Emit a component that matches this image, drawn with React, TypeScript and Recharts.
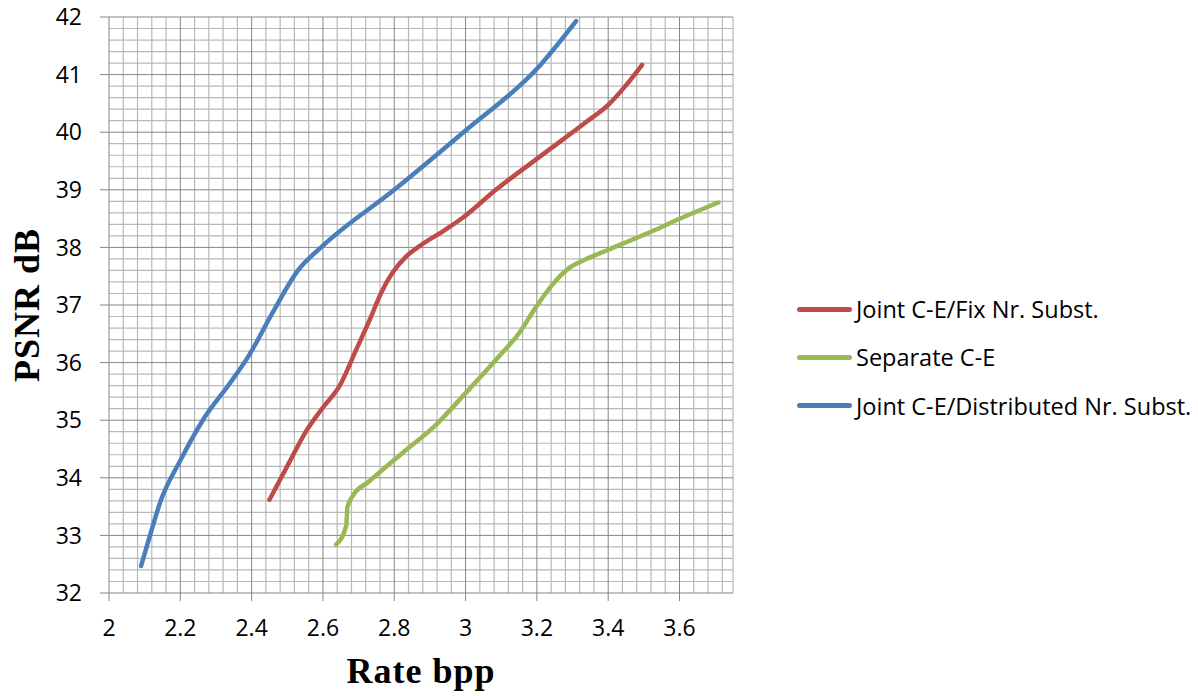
import React from 'react';
import { LineChart, Line, XAxis, YAxis, ReferenceLine } from 'recharts';

const X_TICKS = [2, 2.2, 2.4, 2.6, 2.8, 3, 3.2, 3.4, 3.6];
const Y_TICKS = [32, 33, 34, 35, 36, 37, 38, 39, 40, 41, 42];
const X_DOMAIN: [number, number] = [2, 3.75];
const Y_DOMAIN: [number, number] = [32, 42];
const X_MINOR_STEP = 0.04;
const Y_MINOR_STEP = 0.2;

const SERIES_NAMES = ['Joint C-E/Fix Nr. Subst.', 'Separate C-E', 'Joint C-E/Distributed Nr. Subst.'];
const SERIES_COLORS = ['#BE4B48', '#98B954', '#4A7EBB'];

const fixX = [2.45, 2.51, 2.55, 2.6, 2.647, 2.693, 2.731, 2.763, 2.795, 2.833, 2.87, 2.944, 2.991, 3.085, 3.196, 3.341, 3.401, 3.448, 3.495];
const fixY = [33.62, 34.32, 34.78, 35.22, 35.6, 36.22, 36.74, 37.21, 37.56, 37.84, 38.02, 38.31, 38.51, 39.0, 39.52, 40.19, 40.48, 40.8, 41.17];

const sepX = [2.637, 2.665, 2.669, 2.683, 2.73, 2.823, 2.917, 3.0, 3.094, 3.15, 3.196, 3.243, 3.29, 3.336, 3.401, 3.523, 3.616, 3.709];
const sepY = [32.84, 33.16, 33.5, 33.68, 33.94, 34.43, 34.92, 35.47, 36.11, 36.51, 36.95, 37.35, 37.64, 37.79, 37.96, 38.28, 38.54, 38.78];

const distX = [2.09, 2.115, 2.145, 2.2, 2.263, 2.34, 2.39, 2.46, 2.53, 2.6, 2.8, 3.0, 3.2, 3.31];
const distY = [32.47, 33.0, 33.6, 34.3, 35.0, 35.65, 36.1, 36.88, 37.6, 38.03, 39.0, 40.03, 41.1, 41.93];

const toPoints = (xs: number[], ys: number[]) => xs.map((x, i) => ({ x, y: ys[i] }));
const SERIES_DATA = [toPoints(fixX, fixY), toPoints(sepX, sepY), toPoints(distX, distY)];

const round = (v: number) => Math.round(v * 1000) / 1000;
const steps = (from: number, to: number, step: number) => {
  const out: number[] = [];
  for (let v = from; v <= to + 1e-9; v += step) out.push(round(v));
  return out;
};
const isMajor = (v: number, majors: number[]) => majors.some((m) => Math.abs(m - v) < 1e-6);
const X_MINOR = [...steps(X_DOMAIN[0], X_DOMAIN[1], X_MINOR_STEP).filter((v) => !isMajor(v, X_TICKS)), X_DOMAIN[1]];
const Y_MINOR = steps(Y_DOMAIN[0], Y_DOMAIN[1], Y_MINOR_STEP).filter((v) => !isMajor(v, Y_TICKS));

const FONT = "'Open Sans', sans-serif";
const TITLE_FONT = "'Liberation Serif', 'Times New Roman', serif";
const MAJOR = '#868686';
const MINOR = '#B8B8B8';

export default function App() {
  return (
    <div style={{ position: 'absolute', left: 0, top: 0, width: 1198, height: 696, background: '#fff' }}>
      <LineChart width={1198} height={696} margin={{ top: 17, right: 465, left: 0, bottom: 0 }}>
        <XAxis
          dataKey="x"
          type="number"
          domain={X_DOMAIN}
          ticks={X_TICKS}
          allowDataOverflow
          height={103}
          tickSize={8}
          tickMargin={19}
          stroke={MAJOR}
          tick={{ fill: '#000', fontSize: 23, fontFamily: FONT }}
          label={{
            value: 'Rate bpp',
            position: 'insideBottom',
            offset: 13,
            fill: '#000',
            fontSize: 36,
            fontWeight: 'bold',
            fontFamily: TITLE_FONT,
            letterSpacing: 1,
          }}
        />
        <YAxis
          type="number"
          domain={Y_DOMAIN}
          ticks={Y_TICKS}
          allowDataOverflow
          width={109}
          tickSize={9}
          tickMargin={18}
          stroke={MAJOR}
          tick={{ fill: '#000', fontSize: 23, fontFamily: FONT }}
          label={(props: any) => {
            const vb = props.viewBox || {};
            const cx = vb.x + 27;
            const cy = vb.y + vb.height / 2;
            return (
              <text
                x={cx}
                y={cy}
                transform={`rotate(-90, ${cx}, ${cy})`}
                textAnchor="middle"
                dominantBaseline="central"
                fill="#000"
                fontSize={36}
                fontWeight="bold"
                fontFamily={TITLE_FONT}
                letterSpacing={1}
              >
                PSNR dB
              </text>
            );
          }}
        />
        {X_MINOR.map((v) => (
          <ReferenceLine key={`xm${v}`} x={v} stroke={MINOR} strokeWidth={1.2} />
        ))}
        {Y_MINOR.map((v) => (
          <ReferenceLine key={`ym${v}`} y={v} stroke={MINOR} strokeWidth={1.2} />
        ))}
        {X_TICKS.filter((v) => v !== X_DOMAIN[0]).map((v) => (
          <ReferenceLine key={`xM${v}`} x={v} stroke={MAJOR} strokeWidth={1} />
        ))}
        {Y_TICKS.filter((v) => v !== Y_DOMAIN[0]).map((v) => (
          <ReferenceLine key={`yM${v}`} y={v} stroke={MAJOR} strokeWidth={1} />
        ))}
        {SERIES_DATA.map((d, i) => (
          <Line
            key={SERIES_NAMES[i]}
            data={d}
            dataKey="y"
            name={SERIES_NAMES[i]}
            type="monotone"
            stroke={SERIES_COLORS[i]}
            strokeWidth={4.5}
            strokeLinecap="round"
            strokeLinejoin="round"
            dot={false}
            activeDot={false}
            isAnimationActive={false}
          />
        ))}
      </LineChart>
      <div style={{ position: 'absolute', left: 797, top: 285, fontFamily: FONT, fontSize: 23.5, color: '#000' }}>
        {SERIES_NAMES.map((name, i) => (
          <div key={name} style={{ display: 'flex', alignItems: 'center', height: 48.3, whiteSpace: 'nowrap' }}>
            <div style={{ width: 55, height: 5, borderRadius: 2.5, background: SERIES_COLORS[i], marginRight: 4 }} />
            <span>{name}</span>
          </div>
        ))}
      </div>
    </div>
  );
}
